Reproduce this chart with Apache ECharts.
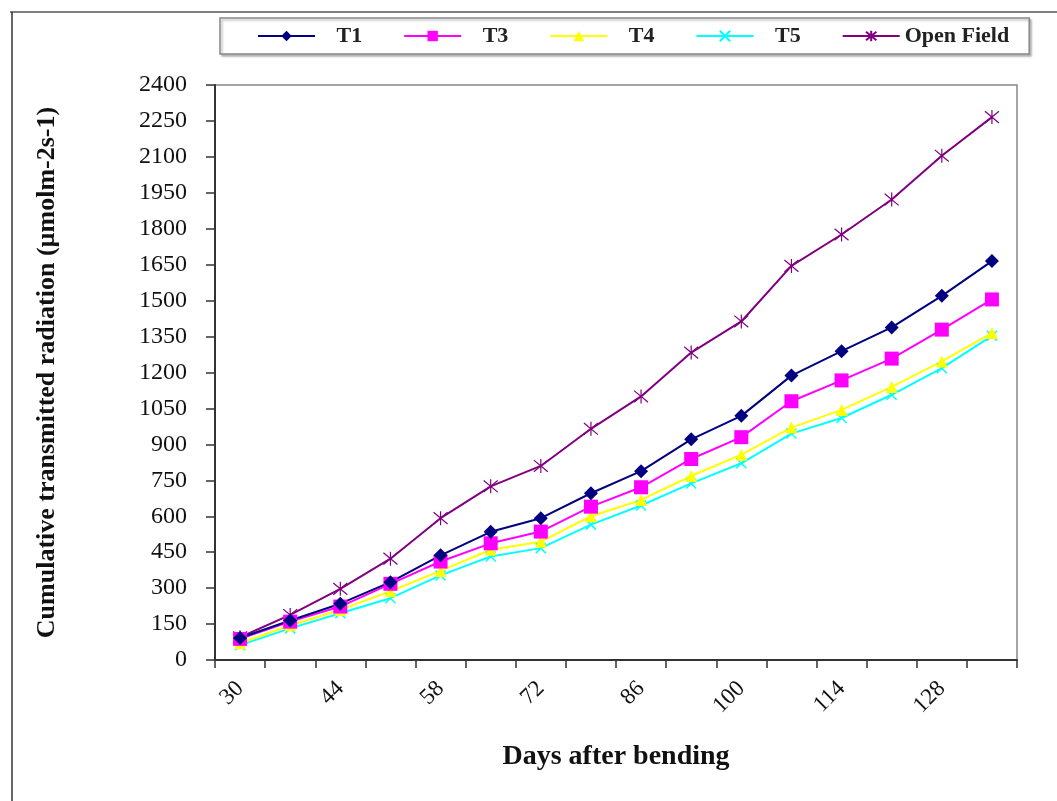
<!DOCTYPE html>
<html>
<head>
<meta charset="utf-8">
<script src="https://cdn.jsdelivr.net/npm/echarts@6/dist/echarts.min.js"></script>
<style>
html,body{margin:0;padding:0;background:#fff;}
#main{width:1057px;height:801px;}
</style>
</head>
<body>
<div id="main"></div>
<script>
var days = ['30','37','44','51','58','65','72','79','86','93','100','107','114','121','128','135'];
var t1 = [92,165,235,325,437,535,592,696,788,921,1019,1187,1289,1388,1520,1665];
var t3 = [88,160,223,318,411,487,536,640,721,839,930,1080,1167,1258,1379,1505];
var t4 = [70,145,209,287,372,460,494,600,668,768,857,970,1044,1140,1246,1365];
var t5 = [62,132,195,258,353,432,467,565,645,737,821,945,1010,1107,1218,1353];
var openField = [95,188,297,423,592,725,810,965,1100,1283,1413,1645,1776,1922,2105,2266];

var serif = '"Liberation Serif","Times New Roman",serif';
var xPath = 'path://M0,0L10,10M0,10L10,0';
var starPath = 'path://M0,0L10,10M0,10L10,0M5,-1L5,11';

function mk(name, data, color, symbol, size, extra) {
  var s = {
    name: name, type: 'line', data: data,
    symbol: symbol, symbolSize: size,
    lineStyle: {color: color, width: 2},
    itemStyle: {color: color},
    emphasis: {disabled: true}
  };
  if (extra) { for (var k in extra) s[k] = extra[k]; }
  return s;
}

var chart = echarts.init(document.getElementById('main'), null, {renderer: 'canvas'});
chart.setOption({
  animation: false,
  backgroundColor: '#fff',
  textStyle: {fontFamily: serif},
  graphic: [
    {type: 'line', shape: {x1: 10, y1: 12, x2: 1057, y2: 12}, style: {stroke: '#555', lineWidth: 1.5}},
    {type: 'line', shape: {x1: 12, y1: 12, x2: 12, y2: 801}, style: {stroke: '#333', lineWidth: 1.5}}
  ],
  legend: {
    left: 220, top: 18,
    padding: [7, 20, 7, 37],
    width: 830,
    itemWidth: 57, itemHeight: 13, itemGap: 41,
    backgroundColor: '#fff',
    borderColor: '#888', borderWidth: 1.5,
    shadowColor: 'rgba(0,0,0,0.25)', shadowBlur: 2, shadowOffsetX: 2, shadowOffsetY: 2,
    textStyle: {fontFamily: serif, fontSize: 22, fontWeight: 'bold', color: '#222'},
    formatter: function (n) { return n === 'Open Field' ? n : '   ' + n; },
    data: ['T1','T3','T4','T5','Open Field']
  },
  grid: {
    left: 215, top: 85, right: 40, bottom: 141,
    show: true, borderColor: '#888', borderWidth: 1.5, backgroundColor: 'transparent'
  },
  xAxis: {
    type: 'category', data: days, boundaryGap: true,
    name: 'Days after bending', nameLocation: 'middle', nameGap: 83,
    nameTextStyle: {fontFamily: serif, fontSize: 28, fontWeight: 'bold', color: '#111'},
    axisLine: {lineStyle: {color: '#333', width: 2}},
    axisTick: {show: true, interval: 0, length: 8, lineStyle: {color: '#333', width: 1.5}},
    axisLabel: {interval: 1, rotate: 45, margin: 25, fontFamily: serif, fontSize: 23, color: '#111'},
    splitLine: {show: false}
  },
  yAxis: {
    type: 'value', min: 0, max: 2400, interval: 150,
    name: 'Cumulative transmitted radiation (µmolm-2s-1)', nameLocation: 'middle', nameGap: 155, nameRotate: 90,
    nameTextStyle: {fontFamily: serif, fontSize: 26, fontWeight: 'bold', color: '#111'},
    axisLine: {show: true, lineStyle: {color: '#333', width: 2}},
    axisTick: {show: true, length: 9, lineStyle: {color: '#333', width: 1.5}},
    axisLabel: {margin: 28, fontFamily: serif, fontSize: 24, color: '#111',
      formatter: function (v) { return String(v); }},
    splitLine: {show: false}
  },
  series: [
    mk('Open Field', openField, '#800080', starPath, 14, {itemStyle: {color: 'transparent', borderColor: '#800080', borderWidth: 1.2}}),
    mk('T5', t5, '#00ffff', xPath, 10, {itemStyle: {color: 'transparent', borderColor: '#00ffff', borderWidth: 1.5}}),
    mk('T4', t4, '#ffff00', 'triangle', 12),
    mk('T3', t3, '#ff00ff', 'rect', 14),
    mk('T1', t1, '#000080', 'diamond', 14)
  ]
});
</script>
</body>
</html>
